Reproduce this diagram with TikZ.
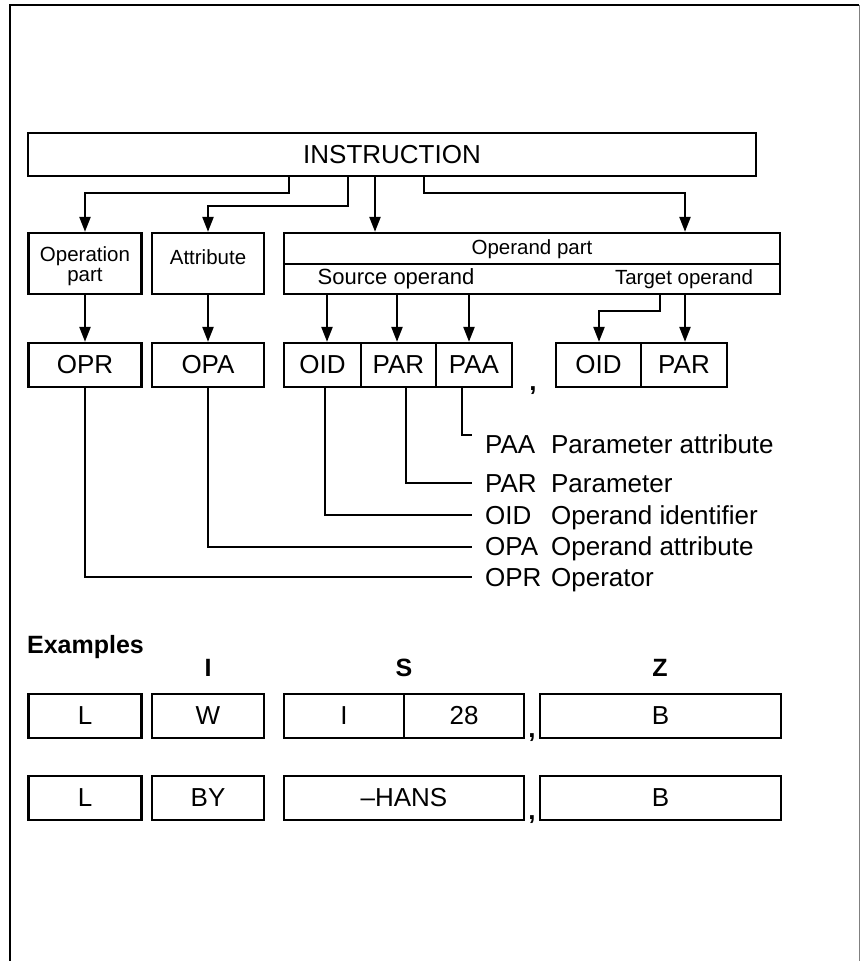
\documentclass[tikz,border=0pt]{standalone}
\usepackage{fontspec}
\setmainfont{Liberation Sans}
\usetikzlibrary{arrows.meta,calc}
\begin{document}
\begin{tikzpicture}[x=1pt,y=-1pt,line width=2.3pt,
  box/.style={draw,line width=2.3pt,inner sep=0pt,minimum height=44pt},
  arr/.style={-{Triangle[length=15pt,width=11pt]},line width=2.3pt},
  lnk/.style={line width=2.3pt},
  big/.style={font=\fontsize{26}{30}\selectfont},
  small/.style={font=\fontsize{20.5}{21}\selectfont},
  hdr/.style={font=\fontsize{25}{30}\selectfont\bfseries},
  txt/.style={inner sep=0pt}
]
\useasboundingbox (0,0) rectangle (860,961);
% frame
\draw[line width=2.3pt] (10,961) -- (10,5) -- (859,5);
\draw[line width=1pt,gray] (859,5) -- (859,961);

% top
\node[box,minimum width=728pt,minimum height=43pt,big] (instr) at (392,154.5) {INSTRUCTION};

\node[box,minimum width=113pt,minimum height=61pt] (oppart) at (85,263.5) {};
\node[txt,small,align=center] (oppartT) at (85,266) {Operation\\[-1pt]part};
\node[box,minimum width=112pt,minimum height=61pt] (attr) at (208,263.5) {};
\node[txt,small] (attrT) at (208,257) {Attribute};
\node[box,minimum width=496pt,minimum height=61pt] (operand) at (532,263.5) {};
\draw[lnk] (operand.west |- 0,264) coordinate (dL) -- (dL -| operand.east);
\node[txt,small] (operandT) at (532,249) {Operand part};
\node[txt,font=\fontsize{22}{24}\selectfont] (srcT) at (396,279) {Source operand};
\node[txt,small] (tgtT) at (684,279) {Target operand};

% arrows from instruction
\draw[arr] ($(instr.south)+(-103,0)$) -- ++(0,16) -| (oppart.north);
\draw[arr] ($(instr.south)+(-44,0)$) -- ++(0,29) -| (attr.north);
\draw[arr] ($(instr.south)+(-17,0)$) coordinate (s3) -- (s3 |- operand.north);
\draw[arr] ($(instr.south)+(32,0)$) -- ++(0,16) -| ($(operand.north)+(153,0)$);

% second row
\node[box,minimum width=113pt,big] (OPR) at (85,365) {OPR};
\node[box,minimum width=112pt,big] (OPA) at (208,365) {OPA};
\node[box,minimum width=77pt,big] (OID) at (322.5,365) {OID};
\node[box,minimum width=75pt,big] (PAR) at (398.5,365) {PAR};
\node[box,minimum width=76pt,big] (PAA) at (474,365) {PAA};
\node[txt,big,anchor=base] (comma1) at (533,390) {\textbf{,}};
\node[box,minimum width=85pt,big] (tOID) at (598.5,365) {OID};
\node[box,minimum width=86pt,big] (tPAR) at (684,365) {PAR};

\draw[arr] (oppart.south) -- (OPR.north);
\draw[arr] (attr.south) -- (OPA.north);
\draw[arr] ($(operand.south)+(-205,0)$) coordinate (a1) -- (a1 |- OID.north);
\draw[arr] ($(operand.south)+(-135,0)$) coordinate (a2) -- (a2 |- PAR.north);
\draw[arr] ($(operand.south)+(-63,0)$) coordinate (a3) -- (a3 |- PAA.north);
\draw[arr] ($(operand.south)+(128,0)$) -- ++(0,16) -| ($(tOID.north)+(0.5,0)$);
\draw[arr] ($(operand.south)+(153,0)$) coordinate (a5) -- (a5 |- tPAR.north);

% legend
\coordinate (ePAA) at (472,435);
\coordinate (ePAR) at (472,483);
\coordinate (eOID) at (472,515);
\coordinate (eOPA) at (472,547);
\coordinate (eOPR) at (472,577);
\draw[lnk] ($(PAA.south)+(-12,0)$) |- (ePAA);
\draw[lnk] ($(PAR.south)+(7.5,0)$) |- (ePAR);
\draw[lnk] ($(OID.south)+(2.5,0)$) |- (eOID);
\draw[lnk] (OPA.south) |- (eOPA);
\draw[lnk] (OPR.south) |- (eOPR);

\node[txt,big,anchor=base west] (kPAA) at (484,453) {PAA};
\node[txt,big,anchor=base west] (dPAA) at (550,453) {Parameter attribute};
\node[txt,big,anchor=base west] (kPAR) at (484,492) {PAR};
\node[txt,big,anchor=base west] (dPAR) at (550,492) {Parameter};
\node[txt,big,anchor=base west] (kOID) at (484,524) {OID};
\node[txt,big,anchor=base west] (dOID) at (550,524) {Operand identifier};
\node[txt,big,anchor=base west] (kOPA) at (484,555) {OPA};
\node[txt,big,anchor=base west] (dOPA) at (550,555) {Operand attribute};
\node[txt,big,anchor=base west] (kOPR) at (484,586) {OPR};
\node[txt,big,anchor=base west] (dOPR) at (550,586) {Operator};

% examples
\node[txt,hdr,anchor=base west] (ex) at (26,653) {Examples};
\node[txt,hdr] (hI) at (208,668) {I};
\node[txt,hdr] (hS) at (404,668) {S};
\node[txt,hdr] (hZ) at (660,668) {Z};

\node[box,minimum width=113pt,big] (r1a) at (85,716) {L};
\node[box,minimum width=112pt,big] (r1b) at (208,716) {W};
\node[box,minimum width=120pt,big] (r1c) at (344,716) {I};
\node[box,minimum width=120pt,big] (r1d) at (464,716) {28};
\node[txt,big,anchor=base] (comma2) at (532,737) {\textbf{,}};
\node[box,minimum width=241pt,big] (r1e) at (660.5,716) {B};

\node[box,minimum width=113pt,big] (r2a) at (85,798) {L};
\node[box,minimum width=112pt,big] (r2b) at (208,798) {BY};
\node[box,minimum width=240pt,big] (r2c) at (404,798) {–HANS};
\node[txt,big,anchor=base] (comma3) at (532,819) {\textbf{,}};
\node[box,minimum width=241pt,big] (r2e) at (660.5,798) {B};
\end{tikzpicture}
\end{document}
